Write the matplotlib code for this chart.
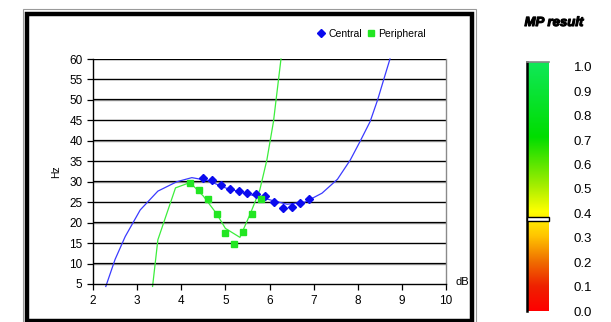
import numpy as np
import matplotlib
matplotlib.use("Agg")
import matplotlib.pyplot as plt
import matplotlib.patheffects as pe
from matplotlib.colors import LinearSegmentedColormap
from matplotlib.patches import Rectangle

plt.rcParams["font.family"] = ["Liberation Sans", "DejaVu Sans"]

# measured points
central_x = [4.5, 4.7, 4.9, 5.1, 5.3, 5.5, 5.7, 5.9, 6.1, 6.3, 6.5, 6.7, 6.9]
central_y = [31.0, 30.5, 29.3, 28.2, 27.8, 27.3, 27.0, 26.6, 25.0, 23.6, 23.9, 24.8, 25.8]
peripheral_x = [4.2, 4.4, 4.6, 4.8, 5.0, 5.2, 5.4, 5.6, 5.8]
peripheral_y = [29.6, 28.0, 25.7, 22.1, 17.5, 14.8, 17.6, 22.2, 25.9]

# fitted curves
central_fit_x = [2.29, 2.5, 2.73, 3.07, 3.47, 3.9, 4.24, 4.6, 5.0, 5.5, 6.0, 6.4,
                 6.8, 7.19, 7.54, 7.83, 8.05, 8.28, 8.45, 8.62, 8.73]
central_fit_y = [4.4, 11.0, 16.6, 23.1, 27.7, 30.0, 31.0, 30.3, 28.5, 27.0, 25.6, 24.5,
                 25.0, 27.2, 30.6, 35.3, 39.8, 44.7, 50.0, 56.1, 60.0]
peripheral_fit_x = [3.35, 3.47, 3.87, 4.2, 4.5, 4.8, 5.0, 5.33, 5.57, 5.78, 5.94, 6.09, 6.26]
peripheral_fit_y = [4.4, 15.8, 28.5, 29.8, 26.5, 22.2, 18.6, 16.4, 22.3, 28.0, 35.3, 44.7, 60.0]

mp_result = 0.377
cbar_ticks = [0.0, 0.1, 0.2, 0.3, 0.4, 0.5, 0.6, 0.7, 0.8, 0.9, 1.0]

fig = plt.figure(figsize=(6.11, 3.22), dpi=100)
W, H = 611, 322

ax = fig.add_axes([93 / W, 1 - 284 / H, 353 / W, 225 / H])
ax.plot(central_fit_x, central_fit_y, color="#3a3aff", lw=0.9, clip_on=False, zorder=2)
ax.plot(peripheral_fit_x, peripheral_fit_y, color="#3cee3c", lw=0.9, clip_on=False, zorder=2)
ax.plot(central_x, central_y, "D", color="#0a0aee", ms=4.4, ls="none", label="Central", zorder=3)
ax.plot(peripheral_x, peripheral_y, "s", color="#22e622", ms=4.9, ls="none", label="Peripheral", zorder=3)

ax.set_xlim(2, 10)
ax.set_ylim(5, 60)
ax.set_xticks(range(2, 11))
ax.set_yticks(range(5, 61, 5))
for yv in range(10, 61, 5):
    ax.axhline(yv, color="#9a9a9a", lw=1.0, zorder=0.5)
    ax.axhline(yv + 0.12, color="black", lw=0.9, zorder=0.6)
ax.tick_params(labelsize=8.5, length=4, width=0.9, color="black")
ax.tick_params(axis="x", pad=4)
for s in ["left", "bottom"]:
    ax.spines[s].set_color("black")
    ax.spines[s].set_linewidth(1.0)
ax.spines["right"].set_color("#8a8a8a")
ax.spines["right"].set_linewidth(1.0)
ax.spines["top"].set_visible(False)

ax.text(-0.105, 0.5, "Hz", transform=ax.transAxes, rotation=90, fontsize=7.5,
        ha="center", va="center")
ax.text(1.028, 0.01, "dB", transform=ax.transAxes, fontsize=8, ha="left", va="center")

ax.legend(loc="center", bbox_to_anchor=(0.79, 1.112), ncol=2, frameon=False,
          fontsize=7.5, handlelength=0.6, handletextpad=0.4, columnspacing=0.6,
          borderpad=0, markerscale=0.9)

# chart frame
fig.patches.append(Rectangle((23 / W, -0.1), (476 - 23) / W, 1.1 - 9 / H,
                             transform=fig.transFigure, fill=False,
                             edgecolor="#9a9a9a", lw=0.8, zorder=5))
fig.patches.append(Rectangle((27 / W, 1 - 320.5 / H), (471.5 - 27) / W, (320.5 - 14) / H,
                             transform=fig.transFigure, fill=False,
                             edgecolor="black", lw=3.2, zorder=5))

# MP result bar
cmap = LinearSegmentedColormap.from_list("mp", [
    (0.0, "#ff0000"), (0.1, "#ee2200"), (0.2, "#f07000"), (0.3, "#ffc400"),
    (0.4, "#ffff00"), (0.5, "#a8ee00"), (0.7, "#00dd00"), (1.0, "#10e858")])
cax = fig.add_axes([527 / W, 1 - 311 / H, 22 / W, 249 / H])
grad = np.linspace(0, 1.02, 256).reshape(-1, 1)
cax.imshow(grad, aspect="auto", cmap=cmap, origin="lower",
           extent=[0, 1, 0, 1.02], vmin=0, vmax=1.02)
cax.set_xlim(0, 1)
cax.set_ylim(0, 1.02)
cax.set_xticks([])
cax.set_yticks(cbar_ticks)
cax.set_yticklabels([f"{t:.1f}" for t in cbar_ticks])
cax.yaxis.tick_right()
cax.tick_params(axis="y", length=0, labelsize=9.5, pad=18)
for s in ["right", "bottom"]:
    cax.spines[s].set_visible(False)
cax.spines["left"].set_linewidth(1.8)
cax.spines["left"].set_color("black")
cax.spines["top"].set_color("#888888")
cax.spines["top"].set_linewidth(1.2)
cax.add_patch(Rectangle((-0.02, mp_result - 0.008), 1.0, 0.016, facecolor="white",
                        edgecolor="black", lw=1.0, clip_on=False, zorder=4))
fig.text(554 / W, 1 - 23 / H, "MP result", fontsize=9.5, fontweight="bold",
         style="italic", ha="center", va="center",
         path_effects=[pe.withStroke(linewidth=0.8, foreground="black")])

fig.savefig("out.png", dpi=100)
